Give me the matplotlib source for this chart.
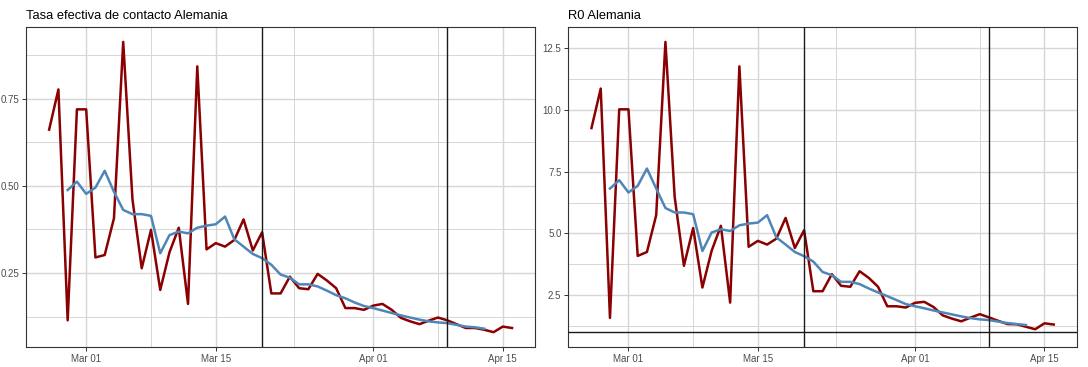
import numpy as np
import pandas as pd
import matplotlib
matplotlib.use("Agg")
import matplotlib.pyplot as plt
import matplotlib.dates as mdates
from matplotlib.ticker import FixedLocator, FormatStrFormatter

plt.rcParams["font.family"] = ["Liberation Sans", "DejaVu Sans"]

# daily series, Feb 26 .. Apr 16 (raw) and Feb 28 .. Apr 13 (smoothed)
RAW_START, RAW_END = "2020-02-26", "2020-04-16"
SMOOTH_START, SMOOTH_END = "2020-02-28", "2020-04-13"
VLINES = ["2020-03-20", "2020-04-09"]

tasa_raw = [0.661, 0.776, 0.115, 0.719, 0.719, 0.295, 0.302, 0.407, 0.912, 0.461,
            0.264, 0.374, 0.202, 0.310, 0.380, 0.162, 0.842, 0.318, 0.336, 0.326,
            0.345, 0.404, 0.315, 0.367, 0.192, 0.192, 0.240, 0.207, 0.204, 0.248,
            0.229, 0.207, 0.150, 0.150, 0.145, 0.157, 0.162, 0.145, 0.122, 0.112,
            0.104, 0.114, 0.123, 0.115, 0.104, 0.093, 0.093, 0.088, 0.081, 0.097,
            0.093]
tasa_smooth = [0.488, 0.512, 0.477, 0.495, 0.543, 0.483, 0.431, 0.419, 0.419, 0.414,
               0.307, 0.359, 0.369, 0.364, 0.380, 0.386, 0.390, 0.412, 0.347, 0.326,
               0.305, 0.293, 0.274, 0.246, 0.237, 0.218, 0.218, 0.212, 0.200, 0.187,
               0.178, 0.166, 0.156, 0.150, 0.143, 0.136, 0.129, 0.123, 0.117, 0.112,
               0.109, 0.107, 0.102, 0.097, 0.095, 0.091]

r0_raw = [9.27, 10.87, 1.58, 10.03, 10.03, 4.09, 4.25, 5.74, 12.76, 6.48,
          3.69, 5.22, 2.81, 4.30, 5.31, 2.20, 11.77, 4.46, 4.70, 4.55,
          4.79, 5.63, 4.41, 5.13, 2.66, 2.66, 3.35, 2.88, 2.84, 3.47,
          3.20, 2.84, 2.05, 2.05, 2.00, 2.19, 2.23, 2.02, 1.68, 1.55,
          1.44, 1.59, 1.73, 1.60, 1.46, 1.33, 1.32, 1.22, 1.12, 1.36,
          1.31]
r0_smooth = [6.82, 7.16, 6.66, 6.93, 7.63, 6.82, 6.03, 5.85, 5.85, 5.78,
             4.29, 5.04, 5.17, 5.10, 5.33, 5.40, 5.44, 5.74, 4.84, 4.55,
             4.25, 4.08, 3.86, 3.44, 3.31, 3.04, 3.04, 2.95, 2.77, 2.61,
             2.46, 2.30, 2.14, 2.05, 1.97, 1.88, 1.80, 1.72, 1.64, 1.57,
             1.52, 1.49, 1.43, 1.37, 1.33, 1.29]

RED = "#8B0000"
BLUE = "#4F86B8"
GRID = "#d6d6d6"
BORDER = "#333333"


def style_axis(ax, yticks, yminor, fmt, ylim):
    raw_dates = pd.date_range(RAW_START, RAW_END)
    x0 = mdates.date2num(raw_dates[0])
    x1 = mdates.date2num(raw_dates[-1])
    pad = (x1 - x0) * 0.05
    ax.set_xlim(x0 - pad, x1 + pad)
    ax.set_ylim(*ylim)

    xmaj = [pd.Timestamp(d) for d in ["2020-03-01", "2020-03-15", "2020-04-01", "2020-04-15"]]
    xmin = [pd.Timestamp(d) for d in ["2020-03-08", "2020-03-23 12:00", "2020-04-08"]]
    ax.xaxis.set_major_locator(FixedLocator(mdates.date2num(xmaj)))
    ax.xaxis.set_minor_locator(FixedLocator(mdates.date2num(xmin)))
    ax.xaxis.set_major_formatter(mdates.DateFormatter("%b %d"))
    ax.yaxis.set_major_locator(FixedLocator(yticks))
    ax.yaxis.set_minor_locator(FixedLocator(yminor))
    ax.yaxis.set_major_formatter(FormatStrFormatter(fmt))

    ax.grid(which="major", color=GRID, lw=1.0, zorder=0)
    ax.grid(which="minor", color=GRID, lw=0.7, zorder=0)
    ax.set_axisbelow(True)
    for s in ax.spines.values():
        s.set_color(BORDER)
        s.set_linewidth(0.8)
    ax.tick_params(which="major", length=3, width=0.7, color=BORDER,
                   labelsize=7, labelcolor="#4D4D4D", pad=2)
    ax.tick_params(which="minor", length=0)


fig = plt.figure(figsize=(10.88, 3.67), dpi=100)
ax_l = fig.add_axes([0.0239, 0.0553, 0.468, 0.870])
ax_r = fig.add_axes([0.5224, 0.0553, 0.4673, 0.870])

raw_dates = pd.date_range(RAW_START, RAW_END)
smooth_dates = pd.date_range(SMOOTH_START, SMOOTH_END)

panels = [
    (ax_l, tasa_raw, tasa_smooth, "Tasa efectiva de contacto Alemania",
     [0.25, 0.50, 0.75], [0.125, 0.375, 0.625, 0.875], "%.2f", None),
    (ax_r, r0_raw, r0_smooth, "R0 Alemania",
     [2.5, 5.0, 7.5, 10.0, 12.5], [1.25, 3.75, 6.25, 8.75, 11.25], "%.1f", 1.0),
]

for ax, raw, smooth, title, yt, ym, fmt, hline in panels:
    vals = list(raw) + list(smooth) + ([hline] if hline is not None else [])
    lo, hi = min(vals), max(vals)
    pad = (hi - lo) * 0.05
    style_axis(ax, yt, ym, fmt, (lo - pad, hi + pad))
    ax.plot(raw_dates, raw, color=RED, lw=1.8, zorder=3)
    ax.plot(smooth_dates, smooth, color=BLUE, lw=1.8, zorder=4)
    for d in VLINES:
        ax.axvline(pd.Timestamp(d), color="#1a1a1a", lw=1.0, zorder=5)
    if hline is not None:
        ax.axhline(hline, color="#1a1a1a", lw=1.0, zorder=5)
    ax.set_title(title, loc="left", fontsize=9.3, color="black", pad=6)

fig.savefig("out.png", dpi=100)
